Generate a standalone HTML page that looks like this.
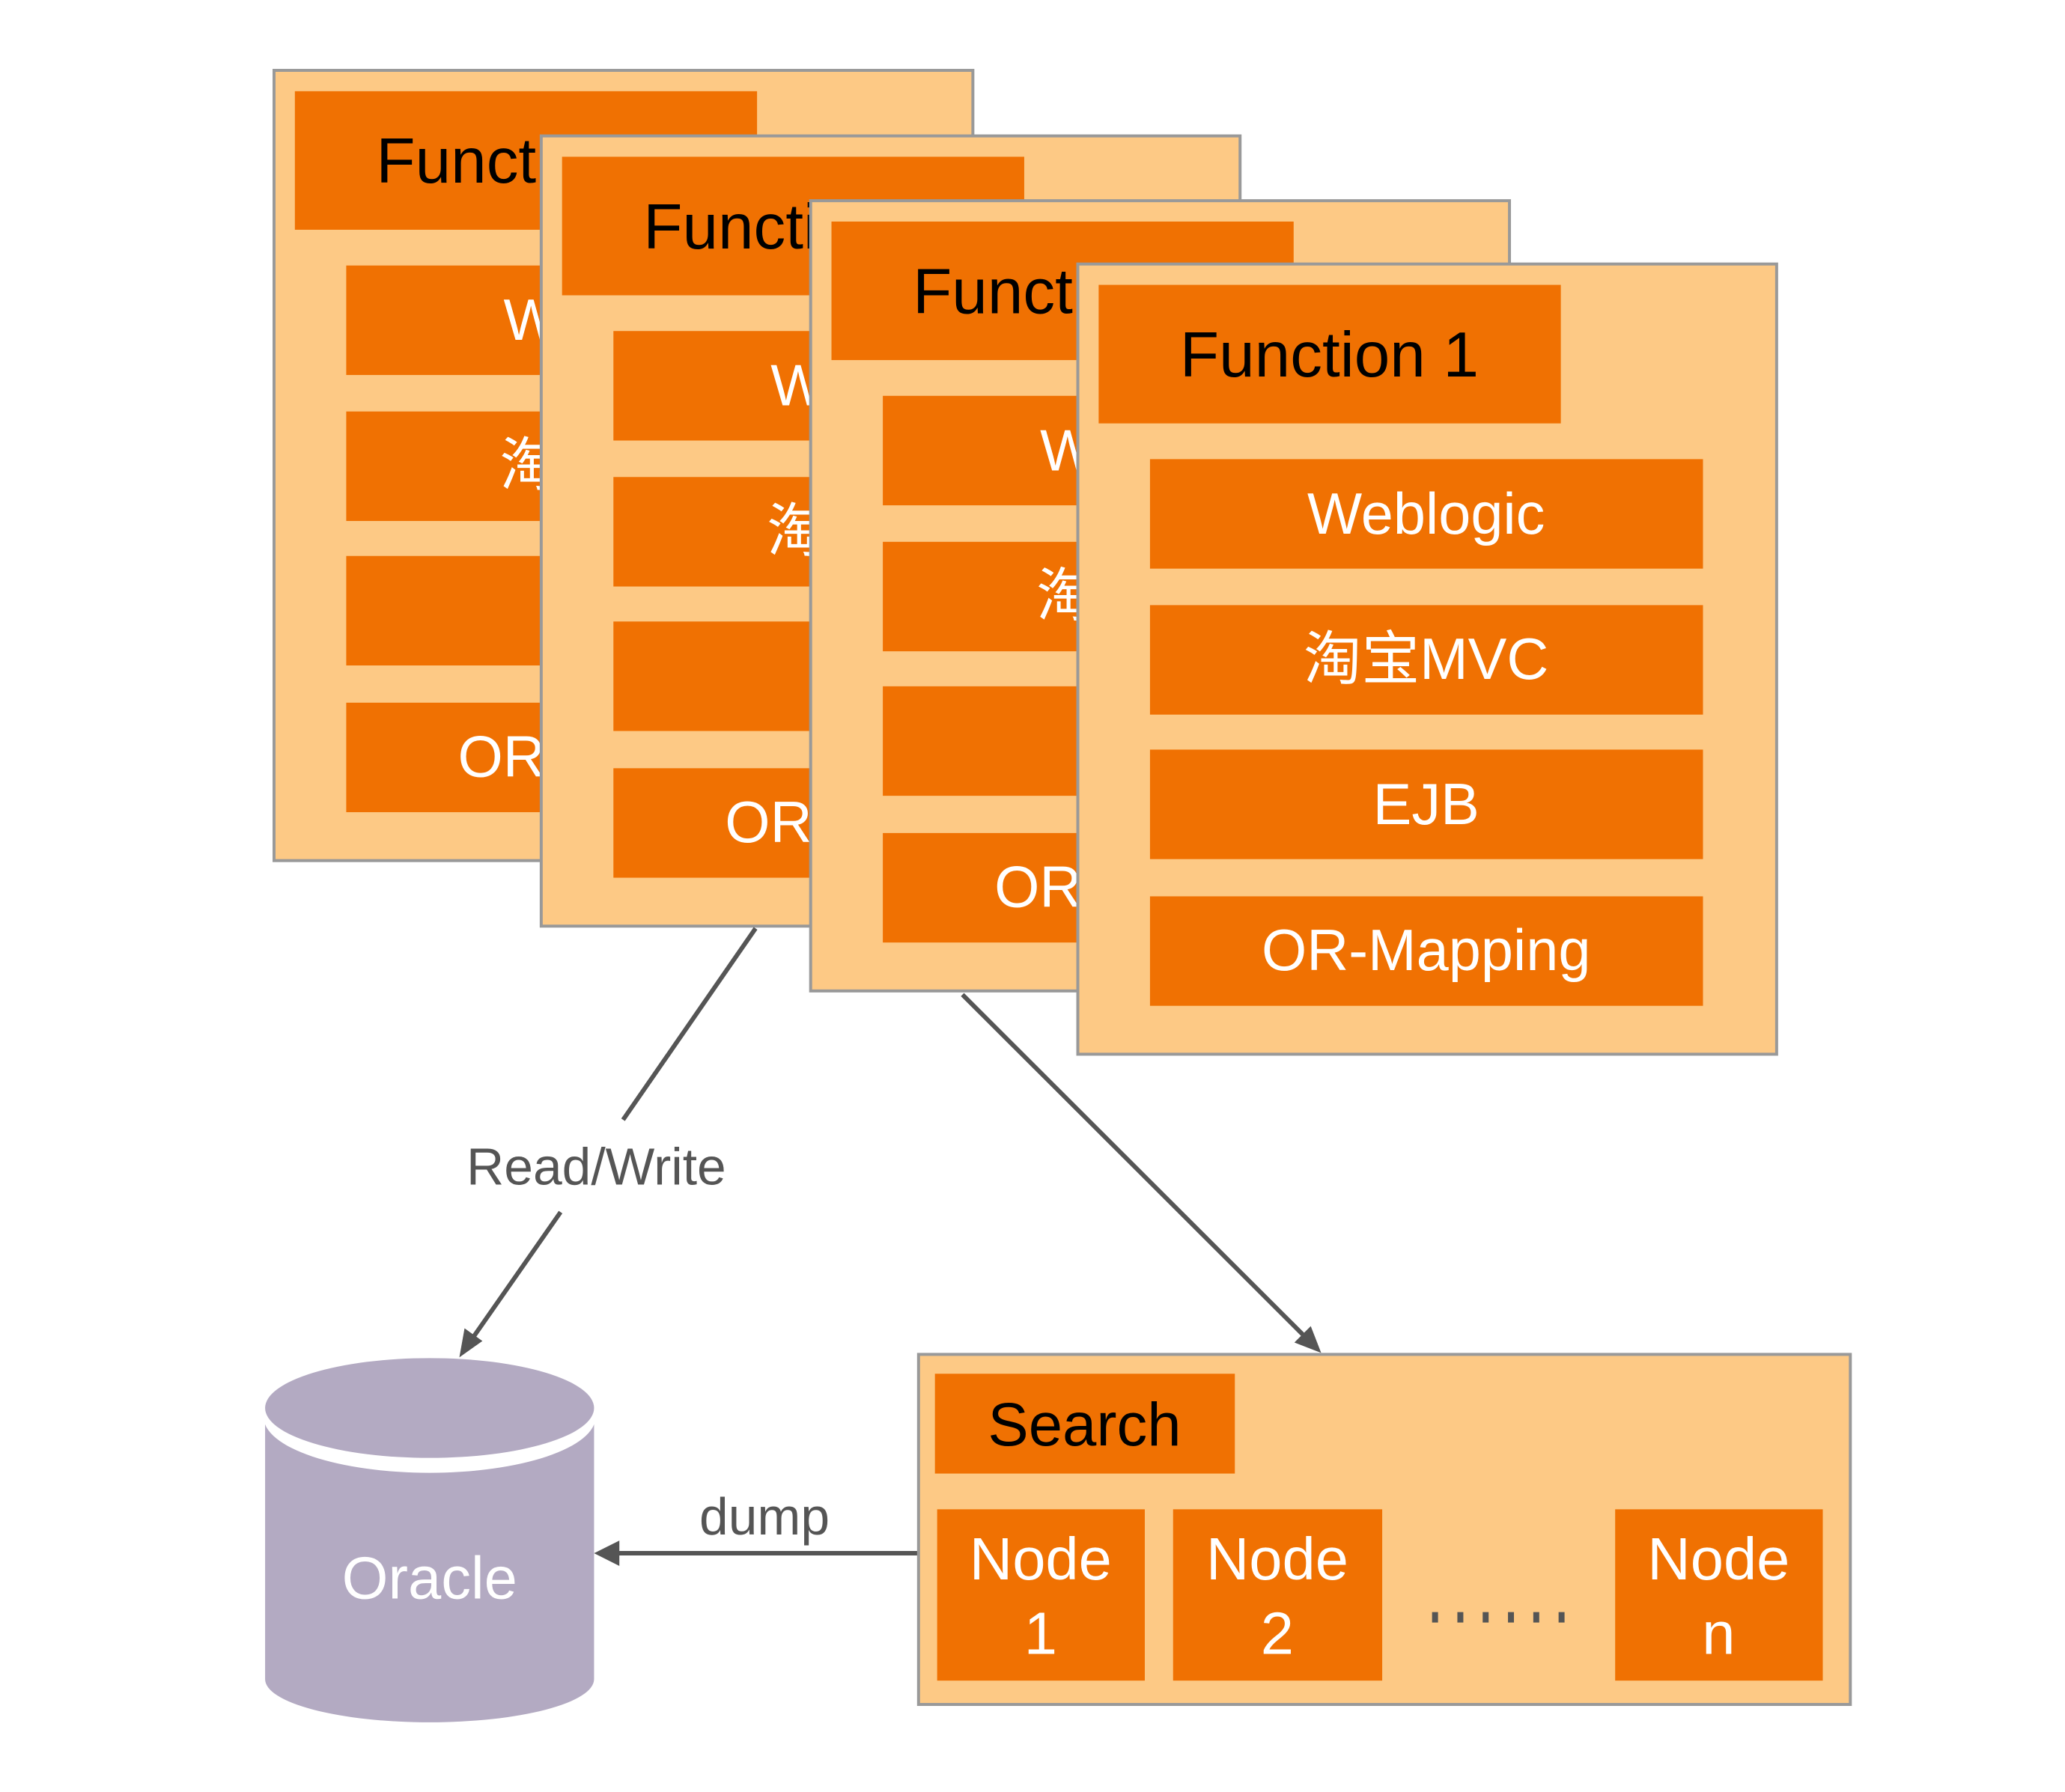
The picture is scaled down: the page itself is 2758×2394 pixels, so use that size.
<!DOCTYPE html>
<html><head><meta charset="utf-8"><style>
html,body{margin:0;padding:0;background:#fff;width:2758px;height:2394px;overflow:hidden}
svg{display:block}
text{font-family:"Liberation Sans","Noto Sans CJK SC",sans-serif}
</style></head><body>
<svg width="2758" height="2394" viewBox="0 0 2758 2394" xmlns="http://www.w3.org/2000/svg">
<defs>
<g id="card">
<rect x="0" y="0" width="939" height="1061" fill="#fdc985" stroke="#999" stroke-width="4"/>
<rect x="28" y="28" width="621" height="186" fill="#f07102"/>
<text x="338" y="151" font-size="86" text-anchor="middle" fill="#000">Function 1</text>
<rect x="97" y="262" width="743" height="147" fill="#f07102"/>
<text x="468" y="362" font-size="78" text-anchor="middle" fill="#fff">Weblogic</text>
<rect x="97" y="458" width="743" height="147" fill="#f07102"/>
<text x="468" y="557" font-size="78" text-anchor="middle" fill="#fff">淘宝MVC</text>
<rect x="97" y="652" width="743" height="147" fill="#f07102"/>
<text x="468" y="752" font-size="78" text-anchor="middle" fill="#fff">EJB</text>
<rect x="97" y="849" width="743" height="147" fill="#f07102"/>
<text x="468" y="948" font-size="78" text-anchor="middle" fill="#fff">OR-Mapping</text>
</g>
</defs>
<g transform="translate(366,94) scale(0.994,0.995) translate(-366,-94)">
<use href="#card" x="366" y="94"/>
<use href="#card" x="725" y="182"/>
<use href="#card" x="1087" y="269"/>
<use href="#card" x="1446" y="354"/>

<g stroke="#555" stroke-width="6" fill="none">
<line x1="1013" y1="1246" x2="835" y2="1503"/>
<line x1="751" y1="1627" x2="628" y2="1803"/>
<line x1="1291" y1="1335" x2="1757" y2="1800"/>
<line x1="1232" y1="2085" x2="825" y2="2085"/>
</g>
<polygon points="615,1822 622,1783 646,1800" fill="#555"/>
<polygon points="1773,1816 1737,1802 1759,1780" fill="#555"/>
<polygon points="796,2085 830,2068 830,2102" fill="#555"/>
<text x="799" y="1590" font-size="70" text-anchor="middle" fill="#555">Read/Write</text>
<text x="1025" y="2060" font-size="70" text-anchor="middle" fill="#555">dump</text>

<path d="M354,1902 L354,2254 A221,58 0 0 0 796,2254 L796,1902 Z" fill="#b3aac2"/>
<ellipse cx="575" cy="1902" rx="223" ry="75" fill="#fff"/>
<ellipse cx="575" cy="1890" rx="221" ry="67" fill="#b3aac2"/>
<text x="575" y="2146" font-size="80" text-anchor="middle" fill="#fff">Oracle</text>

<rect x="1232" y="1818" width="1252" height="470" fill="#fdc985" stroke="#999" stroke-width="4"/>
<rect x="1254" y="1844" width="403" height="134" fill="#f07102"/>
<text x="1455" y="1940" font-size="82" text-anchor="middle" fill="#000">Search</text>
<rect x="1257" y="2026" width="279" height="230" fill="#f07102"/>
<rect x="1574" y="2026" width="281" height="230" fill="#f07102"/>
<rect x="2168" y="2026" width="279" height="230" fill="#f07102"/>
<g font-size="80" text-anchor="middle" fill="#fff">
<text x="1396" y="2120">Node</text><text x="1396" y="2220">1</text>
<text x="1714" y="2120">Node</text><text x="1714" y="2220">2</text>
<text x="2307" y="2120">Node</text><text x="2307" y="2220">n</text>
</g>
<g fill="#555">
<rect x="1922" y="2164" width="8" height="14"/><rect x="1956" y="2164" width="8" height="14"/>
<rect x="1990" y="2164" width="8" height="14"/><rect x="2024" y="2164" width="8" height="14"/>
<rect x="2058" y="2164" width="8" height="14"/><rect x="2092" y="2164" width="8" height="14"/>
</g>
</g>
</svg>
</body></html>
